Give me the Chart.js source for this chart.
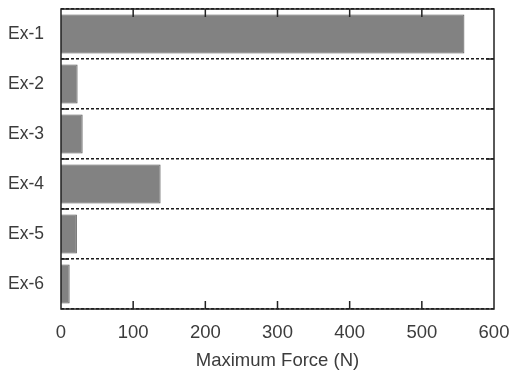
<!DOCTYPE html>
<html>
<head>
<meta charset="utf-8">
<script src="https://cdn.jsdelivr.net/npm/chart.js@4/dist/chart.umd.min.js"></script>
<style>
  html, body { margin: 0; padding: 0; background: #fff; }
  #wrap { width: 513px; height: 372px; }
</style>
</head>
<body>
<div id="wrap"><canvas id="forceChart" width="513" height="372"></canvas></div>
<script>
var categories = ['Ex-1', 'Ex-2', 'Ex-3', 'Ex-4', 'Ex-5', 'Ex-6'];
var maxForce = [559, 23, 30, 138, 22, 12];
var xTicks = [0, 100, 200, 300, 400, 500, 600];

// box round the plot and inward tick marks, like the original figure
var frameTicks = {
  id: 'frameTicks',
  afterDraw: function(chart) {
    var ctx = chart.ctx;
    var area = chart.chartArea;
    var x = chart.scales.x;
    var y = chart.scales.y;
    ctx.save();
    ctx.strokeStyle = '#222';
    ctx.lineWidth = 1.5;
    ctx.strokeRect(area.left, area.top, area.right - area.left, area.bottom - area.top);
    ctx.beginPath();
    xTicks.slice(1, -1).forEach(function(v) {
      var px = x.getPixelForValue(v);
      ctx.moveTo(px, area.bottom);
      ctx.lineTo(px, area.bottom - 8);
      ctx.moveTo(px, area.top);
      ctx.lineTo(px, area.top + 8);
    });
    for (var i = 0; i < categories.length - 1; i++) {
      var py = (y.getPixelForValue(i) + y.getPixelForValue(i + 1)) / 2;
      ctx.moveTo(area.left, py);
      ctx.lineTo(area.left + 8, py);
      ctx.moveTo(area.right, py);
      ctx.lineTo(area.right - 8, py);
    }
    ctx.stroke();
    ctx.restore();
  }
};

new Chart(document.getElementById('forceChart').getContext('2d'), {
  type: 'bar',
  data: {
    labels: categories,
    datasets: [{
      data: maxForce,
      backgroundColor: '#828282',
      borderColor: '#555',
      borderWidth: 1,
      barPercentage: 0.78,
      categoryPercentage: 1.0
    }]
  },
  options: {
    indexAxis: 'y',
    responsive: false,
    animation: false,
    events: [],
    layout: { padding: { left: 0, right: 19, top: 9, bottom: 0 } },
    plugins: {
      legend: { display: false },
      tooltip: { enabled: false }
    },
    scales: {
      x: {
        min: 0,
        max: 600,
        afterFit: function(scale) {
          scale.height = 63;
          scale.paddingLeft = 0;
          scale.paddingRight = 0;
        },
        afterBuildTicks: function(scale) {
          scale.ticks = xTicks.map(function(v) { return { value: v }; });
        },
        grid: { display: false, drawTicks: false },
        border: { display: false },
        ticks: {
          color: '#3c3c3c',
          padding: 13,
          maxRotation: 0,
          font: { family: 'Liberation Sans', size: 18.5 }
        },
        title: {
          display: true,
          text: 'Maximum Force (N)',
          color: '#3c3c3c',
          padding: { top: 3, bottom: 0 },
          font: { family: 'Liberation Sans', size: 18.5 }
        }
      },
      y: {
        afterFit: function(scale) {
          scale.width = 61;
          scale.paddingTop = 0;
          scale.paddingBottom = 0;
        },
        grid: {
          offset: true,
          color: '#1a1a1a',
          lineWidth: 1.5,
          drawTicks: false
        },
        border: { display: false, dash: [3, 2] },
        ticks: {
          color: '#3c3c3c',
          padding: 17,
          font: { family: 'Liberation Sans', size: 17.5 }
        }
      }
    }
  },
  plugins: [frameTicks]
});
</script>
</body>
</html>
